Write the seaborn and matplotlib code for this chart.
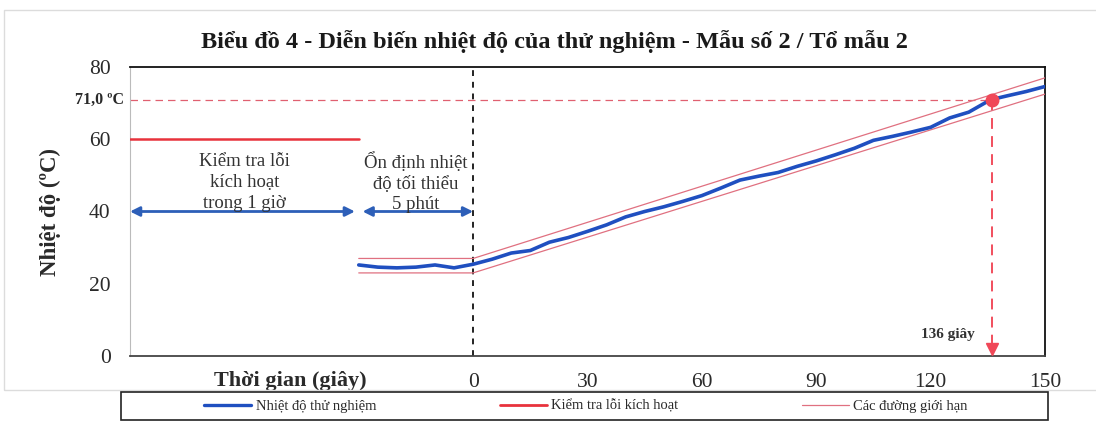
import numpy as np
import pandas as pd
import matplotlib
matplotlib.use("Agg")
import matplotlib.pyplot as plt
from matplotlib.lines import Line2D
from matplotlib.patches import Rectangle
import seaborn as sns

# ---- data ----
time_s = [-30, -25, -20, -15, -10, -5, 0, 5, 10, 15, 20, 25, 30, 35, 40, 45, 50, 55,
          60, 65, 70, 75, 80, 85, 90, 95, 100, 105, 110, 115, 120, 125, 130, 135,
          136, 140, 145, 150]
temp_c = [25.2, 24.6, 24.4, 24.6, 25.2, 24.4, 25.4, 26.8, 28.5, 29.2, 31.5, 32.8, 34.5,
          36.3, 38.5, 40.0, 41.3, 42.8, 44.4, 46.5, 48.7, 49.8, 50.8, 52.5, 54.0, 55.7,
          57.5, 59.7, 60.8, 62.0, 63.3, 65.9, 67.5, 70.5, 71.0, 72.0, 73.2, 74.6]
limit_time = [-30, 0, 150]
limit_upper = [27.0, 27.0, 77.0]
limit_lower = [23.0, 23.0, 72.5]
check_time = [-90, -30]
check_temp = [60, 60]
threshold_temp = 71.0
threshold_time = 136
x_ticks = [0, 30, 60, 90, 120, 150]
y_ticks = [0, 20, 40, 60, 80]

title = "Biểu đồ 4 - Diễn biến nhiệt độ của thử nghiệm - Mẫu số 2 / Tổ mẫu 2"
series_labels = ["Nhiệt độ thử nghiệm", "Kiểm tra lỗi kích hoạt", "Các đường giới hạn"]

sns.set_theme(style="white")
plt.rcParams["font.family"] = ["Liberation Serif", "DejaVu Serif"]

BLUE = "#1f4fc0"
RED = "#e8323c"
LIM = "#e07080"
ARROW = "#2d5fb8"
TXT = "#2a2a2a"

W, H = 1096, 424
fig = plt.figure(figsize=(W / 100, H / 100), dpi=100)

# faint outer chart-area border (scan)
fig.add_artist(Rectangle((4 / W, 1 - 390 / H), (W + 10) / W, (390 - 10) / H,
                         transform=fig.transFigure, fill=False, ec="#dcdcdc", lw=1.0))

ax = fig.add_axes([130 / W, 1 - 356 / H, (1045 - 130) / W, (356 - 67) / H])

df = pd.DataFrame({"t": time_s, "T": temp_c})
sns.lineplot(data=df, x="t", y="T", ax=ax, color=BLUE, lw=2.6, zorder=4)
ax.plot(limit_time, limit_upper, color=LIM, lw=0.9, zorder=3)
ax.plot(limit_time, limit_lower, color=LIM, lw=0.9, zorder=3)
ax.plot(check_time, check_temp, color=RED, lw=1.8, zorder=3)

# vertical dashed line at 0
ax.axvline(0, color="#222222", lw=1.4, ls=(0, (3, 3)), zorder=2)
# threshold lines
ax.plot([-90, threshold_time], [threshold_temp, threshold_temp], color="#e06070",
        lw=0.9, ls=(0, (6, 4)), zorder=2)
ax.plot([threshold_time, threshold_time], [threshold_temp, 2], color="#f04050",
        lw=1.3, ls=(0, (6, 4)), zorder=2)
ax.plot([threshold_time], [1.8], marker="v", color="#f04858", ms=9, zorder=5, clip_on=False)
ax.plot([threshold_time], [threshold_temp], marker="o", color="#f04858", ms=9, zorder=6)
ax.text(threshold_time - 4.3, 6, f"{threshold_time} giây", ha="right", va="center",
        fontsize=11, fontweight="bold", color="#333333")

# duration arrows
ax.annotate("", xy=(-90, 40), xytext=(-31, 40),
            arrowprops=dict(arrowstyle="<|-|>", color=ARROW, lw=2, mutation_scale=14,
                            shrinkA=0, shrinkB=0))
ax.annotate("", xy=(-29, 40), xytext=(0, 40),
            arrowprops=dict(arrowstyle="<|-|>", color=ARROW, lw=2, mutation_scale=14,
                            shrinkA=0, shrinkB=0))
ax.text(-60, 48.0, "Kiểm tra lỗi\nkích hoạt\ntrong 1 giờ", ha="center", va="center",
        fontsize=13.5, linespacing=1.3, color="#333333")
ax.text(-15, 48.0, "Ổn định nhiệt\nđộ tối thiểu\n5 phút", ha="center", va="center",
        fontsize=13.5, linespacing=1.3, color="#333333")

ax.set_xlim(-90, 150)
ax.set_ylim(0, 80)
ax.set_xticks(x_ticks)
ax.set_yticks(y_ticks)
ax.tick_params(axis="both", length=0, labelsize=15.5, colors=TXT)
ax.tick_params(axis="x", pad=12)
ax.tick_params(axis="y", pad=14)
ax.set_xlabel("")
ax.set_ylabel("Nhiệt độ (ºC)", fontsize=16.5, fontweight="bold", labelpad=20, color=TXT)
ax.text(-48, -6.8, "Thời gian (giây)", ha="center", va="center",
        fontsize=16, fontweight="bold", clip_on=False, color=TXT)
ax.text(-91.5, threshold_temp, "71,0 ºC", ha="right", va="center",
        fontsize=11.5, fontweight="bold", clip_on=False, color=TXT)
ax.grid(False)

for side in ["top", "right", "bottom"]:
    ax.spines[side].set_color("#111111")
    ax.spines[side].set_linewidth(1.3)
ax.spines["bottom"].set_color("#444444")
ax.spines["left"].set_color("#bbbbbb")
ax.spines["left"].set_linewidth(0.8)

fig.text(0.506, 1 - 42 / H, title, ha="center", va="center",
         fontsize=17.5, fontweight="bold", color="#1a1a1a")

# legend box
fig.add_artist(Rectangle((121 / W, 1 - 420 / H), (1048 - 121) / W, (420 - 392) / H,
                         transform=fig.transFigure, fill=False, ec="#222222", lw=1.2))
handles = [Line2D([0], [0], color=BLUE, lw=2.4),
           Line2D([0], [0], color=RED, lw=2.0),
           Line2D([0], [0], color=LIM, lw=0.9)]
leg = fig.legend(handles, series_labels, loc="center",
                 bbox_to_anchor=(586 / W, 1 - 406 / H),
                 ncol=3, frameon=False, fontsize=10.5, handlelength=3.2,
                 handletextpad=0.3, columnspacing=8.5, borderaxespad=0)
for t in leg.get_texts():
    t.set_color(TXT)

fig.savefig("out.png", dpi=100)
